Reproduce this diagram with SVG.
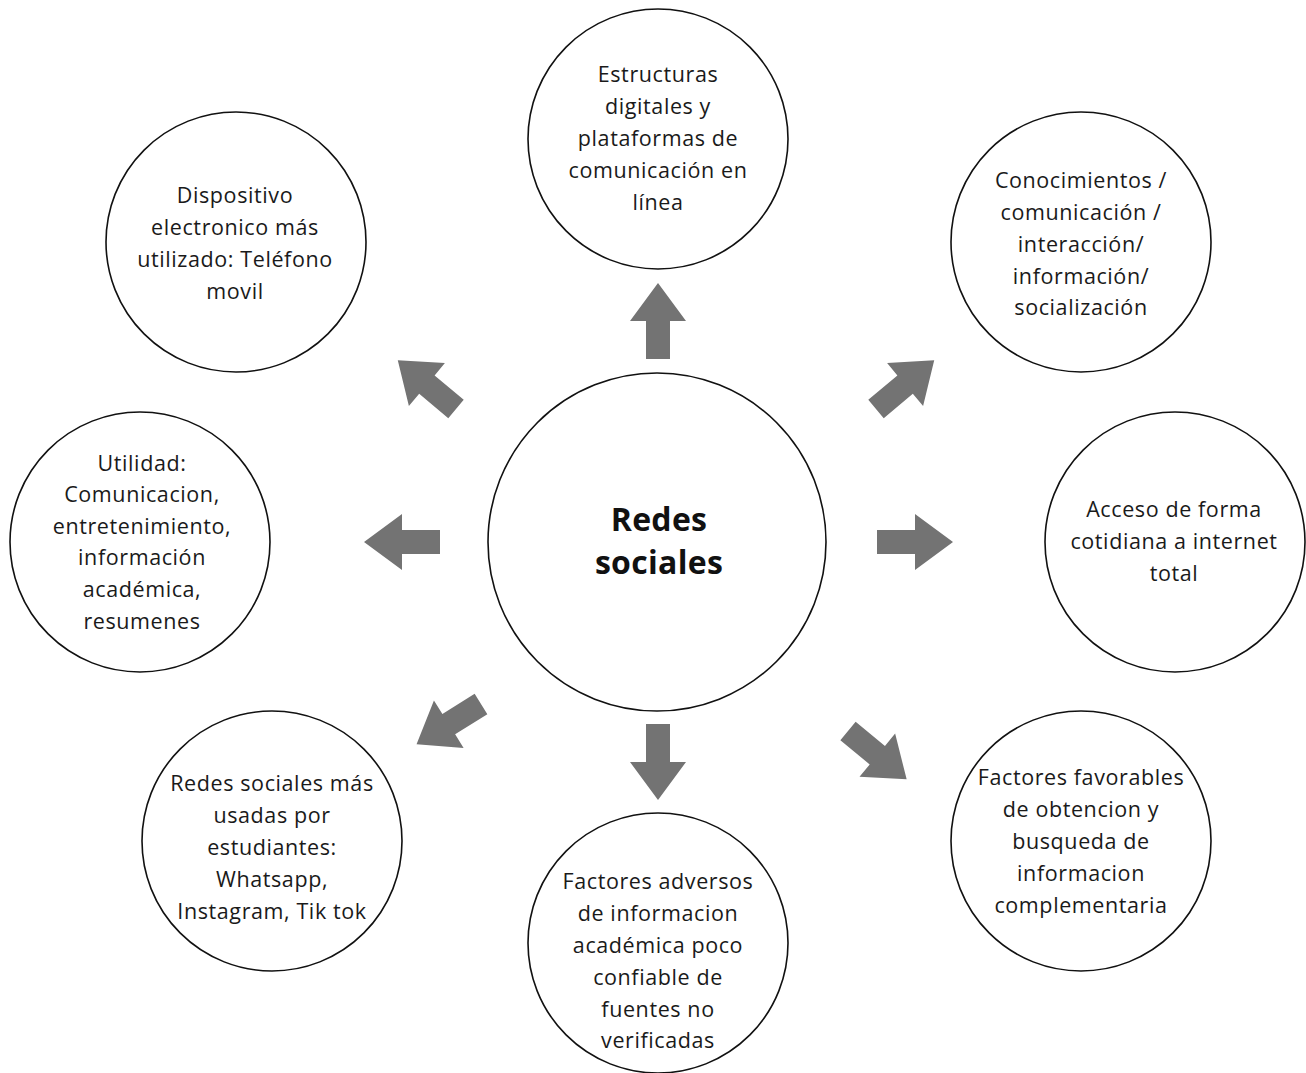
<svg xmlns="http://www.w3.org/2000/svg" width="1306" height="1073" viewBox="0 0 1306 1073">
<defs>
<style>
.c{fill:#fff;stroke:#111;stroke-width:1.6}
.t{font-family:"Open Sans","Noto Sans",sans-serif;font-size:21.5px;letter-spacing:0.6px;fill:#1a1a1a;text-anchor:middle}
.b{font-family:"Open Sans","Noto Sans",sans-serif;font-size:32px;letter-spacing:0.3px;font-weight:bold;fill:#111;text-anchor:middle}
.a{fill:#737373}
</style>
<path id="arr" d="M0,-12 L38,-12 L38,-28 L76,0 L38,28 L38,12 L0,12 Z"/>
</defs>
<rect width="1306" height="1073" fill="#fff"/>
<g id="connectors" class="a">
<use href="#arr" transform="translate(658,359) rotate(-90)"/>
<use href="#arr" transform="translate(658,724) rotate(90)"/>
<use href="#arr" transform="translate(440,542) rotate(180)"/>
<use href="#arr" transform="translate(877,542)"/>
<use href="#arr" transform="translate(456,409) rotate(220)"/>
<use href="#arr" transform="translate(876,409) rotate(-40)"/>
<use href="#arr" transform="translate(481,704) rotate(148)"/>
<use href="#arr" transform="translate(848,731) rotate(39.5)"/>
</g>
<g id="center">
<circle class="c" cx="657" cy="542" r="169"/>
<text class="b" x="659" y="531">Redes</text>
<text class="b" x="659" y="574">sociales</text>
</g>
<g id="estructuras">
<circle class="c" cx="658" cy="139" r="130"/>
<text class="t"><tspan x="658" y="82">Estructuras</tspan><tspan x="658" y="114">digitales y</tspan><tspan x="658" y="146">plataformas de</tspan><tspan x="658" y="178">comunicación en</tspan><tspan x="658" y="210">línea</tspan></text>
</g>
<g id="dispositivo">
<circle class="c" cx="236" cy="242" r="130"/>
<text class="t"><tspan x="235" y="203">Dispositivo</tspan><tspan x="235" y="235">electronico más</tspan><tspan x="235" y="267">utilizado: Teléfono</tspan><tspan x="235" y="299">movil</tspan></text>
</g>
<g id="conocimientos">
<circle class="c" cx="1081" cy="242" r="130"/>
<text class="t"><tspan x="1081" y="188">Conocimientos /</tspan><tspan x="1081" y="220">comunicación /</tspan><tspan x="1081" y="252">interacción/</tspan><tspan x="1081" y="284">información/</tspan><tspan x="1081" y="315">socialización</tspan></text>
</g>
<g id="utilidad">
<circle class="c" cx="140" cy="542" r="130"/>
<text class="t"><tspan x="142" y="471">Utilidad:</tspan><tspan x="142" y="502">Comunicacion,</tspan><tspan x="142" y="534">entretenimiento,</tspan><tspan x="142" y="565">información</tspan><tspan x="142" y="597">académica,</tspan><tspan x="142" y="629">resumenes</tspan></text>
</g>
<g id="acceso">
<circle class="c" cx="1175" cy="542" r="130"/>
<text class="t"><tspan x="1174" y="517">Acceso de forma</tspan><tspan x="1174" y="549">cotidiana a internet</tspan><tspan x="1174" y="581">total</tspan></text>
</g>
<g id="redes-mas-usadas">
<circle class="c" cx="272" cy="841" r="130"/>
<text class="t"><tspan x="272" y="791">Redes sociales más</tspan><tspan x="272" y="823">usadas por</tspan><tspan x="272" y="855">estudiantes:</tspan><tspan x="272" y="887">Whatsapp,</tspan><tspan x="272" y="919">Instagram, Tik tok</tspan></text>
</g>
<g id="adversos">
<circle class="c" cx="658" cy="943" r="130"/>
<text class="t"><tspan x="658" y="889">Factores adversos</tspan><tspan x="658" y="921">de informacion</tspan><tspan x="658" y="953">académica poco</tspan><tspan x="658" y="985">confiable de</tspan><tspan x="658" y="1017">fuentes no</tspan><tspan x="658" y="1048">verificadas</tspan></text>
</g>
<g id="favorables">
<circle class="c" cx="1081" cy="841" r="130"/>
<text class="t"><tspan x="1081" y="785">Factores favorables</tspan><tspan x="1081" y="817">de obtencion y</tspan><tspan x="1081" y="849">busqueda de</tspan><tspan x="1081" y="881">informacion</tspan><tspan x="1081" y="913">complementaria</tspan></text>
</g>
</svg>
